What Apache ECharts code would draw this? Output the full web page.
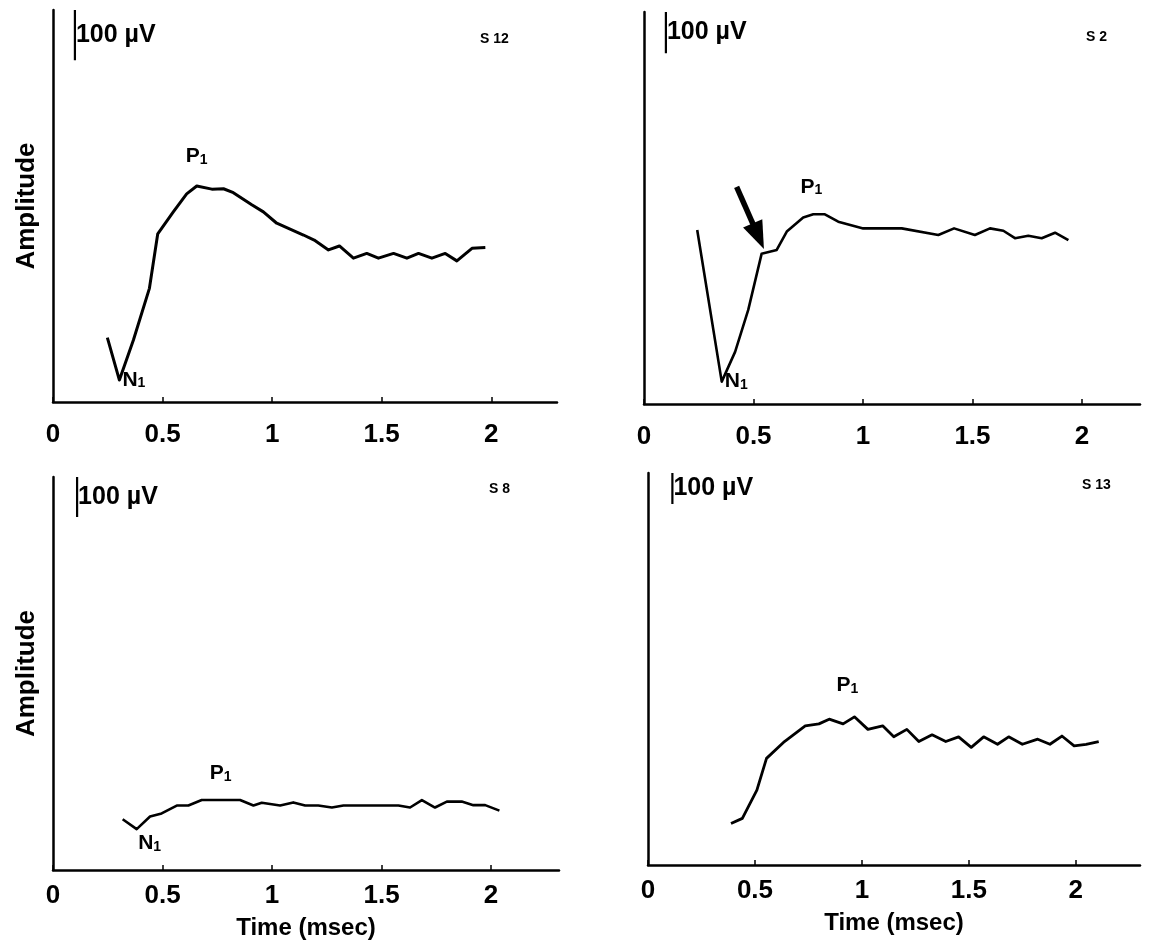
<!DOCTYPE html>
<html><head><meta charset="utf-8">
<script src="https://cdn.jsdelivr.net/npm/echarts@6/dist/echarts.min.js"></script>
<style>html,body{margin:0;padding:0;background:#fff}#c{width:1161px;height:944px}</style>
</head><body><div id="c"></div>
<script>
// ---- data (time in msec, amplitude in arbitrary units: 0..100 of panel height) ----
const tickLabels = ['0', '0.5', '1', '1.5', '2'];
const panelNames = ['S 12', 'S 2', 'S 8', 'S 13'];

const s12Time = [0.248,0.303,0.367,0.44,0.478,0.549,0.61,0.656,0.725,0.778,0.823,0.907,0.96,1.021,1.082,1.143,1.192,1.257,1.307,1.371,1.432,1.485,1.554,1.615,1.668,1.729,1.79,1.843,1.912,1.973];
const s12Amp  = [16.4,5.6,15.8,29.0,42.9,48.5,53.1,55.1,54.3,54.4,53.4,50.3,48.5,45.6,44.1,42.6,41.3,38.8,39.8,36.7,37.9,36.7,37.9,36.7,37.9,36.7,37.9,36.0,39.2,39.4];

const s2Time = [0.243,0.355,0.416,0.476,0.537,0.606,0.652,0.727,0.773,0.826,0.887,1.001,1.177,1.344,1.416,1.511,1.58,1.641,1.694,1.755,1.816,1.877,1.938];
const s2Amp  = [44.4,5.7,13.3,24.0,38.3,39.3,44.0,47.6,48.4,48.4,46.5,44.8,44.8,43.1,44.8,43.1,44.8,44.2,42.3,42.9,42.3,43.7,41.8];

const s8Time = [0.318,0.382,0.443,0.496,0.565,0.618,0.679,0.854,0.915,0.953,1.037,1.097,1.151,1.211,1.273,1.326,1.577,1.630,1.684,1.744,1.798,1.866,1.919,1.973,2.038];
const s8Amp  = [12.9,10.4,13.6,14.4,16.4,16.4,17.8,17.8,16.4,17.1,16.4,17.2,16.4,16.4,15.9,16.4,16.4,15.9,17.8,15.9,17.4,17.4,16.5,16.5,15.1];

const s13Time = [0.388,0.441,0.509,0.554,0.638,0.735,0.799,0.847,0.912,0.965,1.028,1.097,1.149,1.210,1.266,1.328,1.392,1.452,1.511,1.569,1.634,1.686,1.750,1.822,1.879,1.935,1.992,2.048,2.107];
const s13Amp  = [10.6,11.9,19.1,27.2,31.5,35.5,36.0,37.2,36.0,37.8,34.6,35.5,32.7,34.6,31.5,33.2,31.5,32.7,30.0,32.7,30.8,32.7,30.8,32.1,30.8,32.9,30.4,30.8,31.5];

// index of N1 / P1 peaks in each series (-1 = not labelled)
const n1Index = [1, 1, 1, -1];
const p1Index = [7, 8, 6, 9];

// 100 µV calibration bar: time position and length (in panel amplitude units)
const scaleBarTime = [0.1, 0.1, 0.11, 0.114];
const scaleBarLen  = [12.8, 10.5, 10.2, 7.9];

// arrow in S 2 (tail -> head), data coordinates
const arrowS2 = [[0.423, 55.4], [0.522, 42.8]];

// ---- layout ----
const FONT = 'Liberation Sans';
const panels = [
  {time: s12Time, amp: s12Amp, grid: {left: 53, top: 10, width: 504, height: 392}, xMax: 2.30, leftCol: true, bottomRow: false, title: {left: 475, top: 27}, lw: 3},
  {time: s2Time,  amp: s2Amp,  grid: {left: 644, top: 12, width: 496, height: 392}, xMax: 2.265, leftCol: false, bottomRow: false, title: {left: 1081, top: 25}, lw: 2.6},
  {time: s8Time,  amp: s8Amp,  grid: {left: 53, top: 477, width: 506, height: 393}, xMax: 2.31, leftCol: true, bottomRow: true, title: {left: 484, top: 477}, lw: 2.6},
  {time: s13Time, amp: s13Amp, grid: {left: 648, top: 473, width: 492, height: 392}, xMax: 2.30, leftCol: false, bottomRow: true, title: {left: 1077, top: 473}, lw: 2.8}
];

const richSub = {
  a: {fontSize: 21, fontWeight: 'bold', fontFamily: FONT, color: '#000'},
  b: {fontSize: 14, fontWeight: 'bold', fontFamily: FONT, color: '#000', padding: [7, 0, 0, 0]}
};

const grids = [], xAxes = [], yAxes = [], series = [], titles = [];
panels.forEach((p, i) => {
  grids.push(Object.assign({}, p.grid));
  titles.push({text: panelNames[i], left: p.title.left, top: p.title.top,
    textStyle: {fontSize: 14, fontWeight: 'bold', fontFamily: FONT, color: '#000'}});
  xAxes.push({
    type: 'value', gridIndex: i, min: 0, max: p.xMax, interval: 0.5,
    axisLine: {lineStyle: {color: '#000', width: 2.5}},
    axisTick: {inside: true, length: 5, lineStyle: {color: '#000', width: 1.5}},
    axisLabel: {color: '#000', fontSize: 26, fontWeight: 'bold', fontFamily: FONT,
      margin: p.bottomRow ? 13 : 20, showMaxLabel: false,
      formatter: v => { const k = Math.round(v / 0.5); return Math.abs(v - k * 0.5) < 1e-6 && tickLabels[k] !== undefined ? tickLabels[k] : ''; }},
    splitLine: {show: false},
    name: p.bottomRow ? 'Time (msec)' : '', nameLocation: 'middle', nameGap: 46,
    nameTextStyle: {color: '#000', fontSize: 24, fontWeight: 'bold', fontFamily: FONT, verticalAlign: 'top'}
  });
  yAxes.push({
    type: 'value', gridIndex: i, min: 0, max: 100,
    axisLine: {show: true, lineStyle: {color: '#000', width: 2.5}},
    axisTick: {show: false}, axisLabel: {show: false}, splitLine: {show: false},
    name: p.leftCol ? 'Amplitude' : '', nameLocation: 'middle', nameGap: 13,
    nameTextStyle: {color: '#000', fontSize: 26, fontWeight: 'bold', fontFamily: FONT}
  });

  const data = p.time.map((t, k) => {
    const item = {value: [t, p.amp[k]]};
    if (k === n1Index[i]) {
      item.label = {show: true, formatter: '{a|N}{b|1}', rich: richSub,
        position: i === 2 ? 'bottom' : 'right', distance: i === 2 ? 4 : 1, offset: i === 2 ? [13, 0] : [2, 0]};
    } else if (k === p1Index[i]) {
      const off = [[0, -13], [-2, -11], [19, -10], [-7, -15]][i];
      item.label = {show: true, formatter: '{a|P}{b|1}', rich: richSub, position: 'top', distance: 6, offset: off};
    }
    return item;
  });
  const s = {
    type: 'line', xAxisIndex: i, yAxisIndex: i, data: data,
    showSymbol: true, symbol: 'circle', symbolSize: 0,
    lineStyle: {color: '#000', width: p.lw, join: 'round'},
    itemStyle: {color: '#000'}, label: {show: false},
    emphasis: {disabled: true}, silent: true, z: 3
  };
  if (i === 1) {
    s.markLine = {
      silent: true, symbol: ['none', 'triangle'], symbolSize: [21, 28], precision: 3,
      label: {show: false}, emphasis: {disabled: true},
      lineStyle: {color: '#000', width: 5.5, type: 'solid'},
      data: [[{coord: arrowS2[0]}, {coord: arrowS2[1]}]]
    };
  }
  series.push(s);

  // 100 µV calibration bar
  const bt = scaleBarTime[i], bl = scaleBarLen[i];
  series.push({
    type: 'line', xAxisIndex: i, yAxisIndex: i,
    data: [
      {value: [bt, 100 - bl]},
      {value: [bt, 100 - bl / 2], label: {show: true, position: 'right', distance: 1, formatter: '100 µV',
        color: '#000', fontSize: 25, fontWeight: 'bold', fontFamily: FONT}},
      {value: [bt, 100]}
    ],
    showSymbol: true, symbol: 'circle', symbolSize: 0,
    lineStyle: {color: '#000', width: 2.2}, itemStyle: {color: '#000'},
    label: {show: false}, emphasis: {disabled: true}, silent: true
  });
});

const chart = echarts.init(document.getElementById('c'), null, {renderer: 'canvas'});
chart.setOption({
  animation: false, backgroundColor: '#fff',
  title: titles, grid: grids, xAxis: xAxes, yAxis: yAxes, series: series
});
</script>
</body></html>
